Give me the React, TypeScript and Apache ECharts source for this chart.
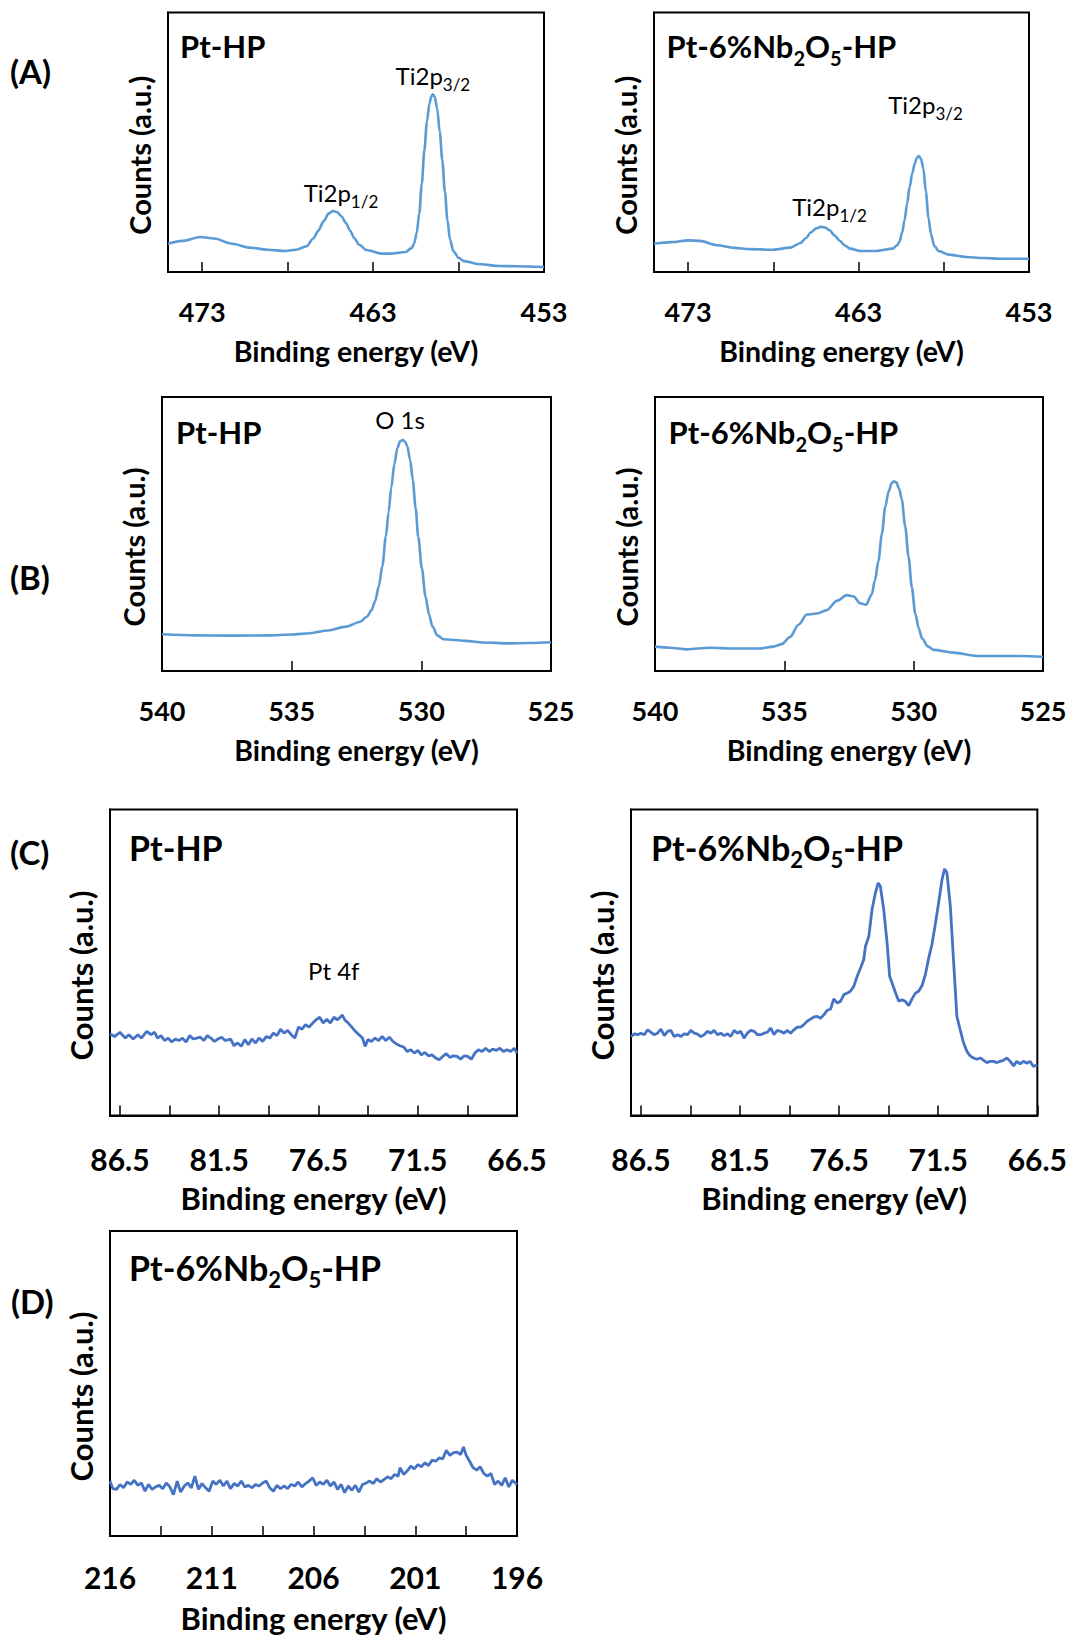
import React, { useEffect, useRef } from 'react';
import * as echarts from 'echarts';

const FONT = 'Lato, "Open Sans", sans-serif';
const LIGHT = '#5B9BD5';
const DARK = '#4472C4';

// ---------- data (x: binding energy eV, y: counts in % of plot height) ----------
const tiPtHP: number[][] = [
  [475.0, 10.9], [474.17, 12.0], [473.1, 13.5], [472.3, 12.9], [471.25, 10.9], [470.2, 9.4], [469.2, 8.6],
  [468.1, 8.1], [467.5, 8.6], [466.9, 9.9], [466.5, 12.9], [466.2, 16], [465.9, 19.5], [465.6, 22.5],
  [465.35, 23.5], [465.1, 23], [464.85, 21.5], [464.6, 19], [464.35, 16], [464.1, 13], [463.8, 10.5],
  [463.4, 8.5], [462.5, 7.1], [461.9, 7.1], [461.1, 7.7], [460.75, 9.2], [460.6, 10.9], [460.45, 15],
  [460.3, 22.5], [460.15, 34], [460.0, 47], [459.85, 58], [459.7, 65], [459.6, 67.6], [459.5, 68.5],
  [459.4, 67.6], [459.25, 63], [459.1, 54], [458.95, 43], [458.8, 31], [458.65, 20], [458.5, 12.5],
  [458.3, 8], [458.0, 5.5], [457.7, 4.2], [456.7, 3.0], [455.6, 2.3], [454.6, 2.2], [453.0, 1.9],
];
const tiPtNb: number[][] = [
  [475.0, 10.9], [474.0, 11.5], [472.96, 12.2], [472.3, 12.0], [471.3, 10.3], [470.3, 9.3], [469.4, 8.8],
  [468.0, 8.6], [467.0, 9.4], [466.4, 11.2], [466.1, 13], [465.8, 15.2], [465.5, 16.8], [465.2, 17.4],
  [464.95, 17.1], [464.7, 16.1], [464.4, 14], [464.1, 12], [463.8, 10.2], [463.5, 9.0], [462.9, 8.1],
  [461.96, 8.1], [461.0, 9.0], [460.75, 10.2], [460.6, 11.6], [460.45, 15], [460.3, 20], [460.15, 26.5],
  [460.0, 32.8], [459.85, 38], [459.7, 41.8], [459.58, 44], [459.46, 44.7], [459.33, 43.5], [459.2, 40],
  [459.05, 31], [458.9, 21], [458.75, 14.5], [458.55, 10], [458.3, 8.1], [457.7, 6.7], [456.7, 5.8],
  [455.7, 5.4], [454.6, 5.1], [453.0, 5.1],
];
const oPtHP: number[][] = [
  [540, 13.4], [538.7, 13.0], [537.3, 12.9], [535.9, 13.0], [535.0, 13.3], [534.3, 13.8], [533.6, 14.8],
  [532.9, 16.2], [532.35, 18.0], [532.1, 19.8], [531.92, 22.2], [531.78, 25.5], [531.64, 30.9], [531.5, 38.5],
  [531.37, 49], [531.26, 58], [531.16, 67], [531.04, 75.5], [530.92, 81.5], [530.82, 83.8], [530.72, 84.3],
  [530.62, 83.6], [530.54, 82], [530.43, 77], [530.33, 69.8], [530.22, 59.5], [530.12, 49], [529.98, 37.5],
  [529.84, 27.2], [529.7, 20.5], [529.57, 16.2], [529.38, 13], [529.15, 11.6], [528.3, 11.0], [527.6, 10.4],
  [526.65, 10.1], [525.8, 10.2], [525, 10.5],
];
const oPtNb: number[][] = [
  [540, 8.9], [539.42, 8.5], [538.77, 7.9], [537.87, 8.5], [536.97, 8.2], [535.94, 8.2], [535.42, 8.9],
  [535.1, 9.8], [534.78, 12.4], [534.45, 16.9], [534.13, 20.6], [533.74, 21.0], [533.36, 22.2], [532.97, 25.6],
  [532.58, 27.7], [532.33, 27.3], [532.07, 24.7], [531.84, 24.2], [531.62, 28.0], [531.5, 33], [531.36, 40.2],
  [531.23, 50], [531.1, 59.8], [530.97, 65.5], [530.84, 68.7], [530.75, 69.2], [530.67, 68.9], [530.56, 66.5],
  [530.46, 62.7], [530.33, 53], [530.2, 41.8], [530.07, 30.5], [529.94, 21.0], [529.8, 15.5], [529.68, 11.9],
  [529.45, 9], [529.23, 7.7], [528.46, 6.7], [527.55, 5.5], [526.65, 5.5], [525.88, 5.5], [525, 5.2],
];
const ptPtHP: number[][] = [
  [87.0, 26.7], [86.77, 25.8], [86.5, 27.2], [86.23, 25.3], [86.05, 26.4], [85.83, 25.0], [85.6, 26.4],
  [85.42, 25.3], [85.15, 27.5], [84.93, 26.4], [84.75, 27.2], [84.61, 25.3], [84.43, 26.1], [84.25, 24.5],
  [84.07, 25.3], [83.89, 24.0], [83.71, 25.0], [83.53, 24.5], [83.35, 25.3], [83.17, 24.0], [82.99, 26.1],
  [82.81, 25.0], [82.63, 25.3], [82.45, 25.6], [82.27, 24.5], [82.1, 26.1], [81.92, 25.3], [81.74, 24.2],
  [81.56, 25.0], [81.38, 25.6], [81.2, 24.5], [80.93, 25.0], [80.75, 22.8], [80.57, 23.7], [80.39, 22.6],
  [80.21, 24.8], [80.03, 23.1], [79.85, 25.0], [79.67, 23.7], [79.49, 25.3], [79.31, 24.2], [79.13, 25.8],
  [78.95, 25.3], [78.77, 26.9], [78.59, 26.1], [78.41, 28.2], [78.23, 26.9], [78.05, 27.8], [77.87, 26.4],
  [77.69, 25.3], [77.51, 28.9], [77.33, 28.2], [77.15, 29.7], [76.97, 28.9], [76.79, 30.2], [76.62, 31.3],
  [76.44, 32.1], [76.26, 30.2], [76.08, 31.5], [75.9, 30.2], [75.72, 32.1], [75.54, 31.3], [75.3, 32.8],
  [75.18, 31.3], [75.0, 30.2], [74.82, 28.9], [74.64, 27.5], [74.46, 26.4], [74.28, 25.3], [74.15, 22.6],
  [74.01, 24.8], [73.83, 24.2], [73.65, 25.3], [73.47, 24.5], [73.29, 25.8], [73.11, 24.5], [72.93, 25.6],
  [72.75, 24.2], [72.57, 23.4], [72.39, 22.8], [72.21, 22.4], [72.03, 20.9], [71.85, 21.5], [71.67, 20.4],
  [71.49, 21.3], [71.32, 19.8], [71.14, 20.6], [70.96, 19.5], [70.78, 19.8], [70.6, 18.8], [70.42, 18.2],
  [70.24, 19.3], [70.06, 20.2], [69.88, 19.0], [69.7, 19.5], [69.52, 19.3], [69.34, 18.4], [69.16, 19.5],
  [68.98, 19.3], [68.8, 18.4], [68.62, 20.4], [68.44, 21.5], [68.26, 20.9], [68.08, 22.0], [67.9, 20.9],
  [67.72, 21.7], [67.54, 21.3], [67.36, 22.0], [67.18, 20.9], [67.0, 21.5], [66.82, 20.9], [66.64, 22.0],
  [66.5, 20.4],
];
const ptPtNb: number[][] = [
  [87.0, 25.8], [86.83, 26.7], [86.66, 26.4], [86.5, 26.9], [86.33, 26.4], [86.16, 28.0], [85.99, 27.2],
  [85.83, 26.4], [85.66, 26.9], [85.49, 28.2], [85.32, 26.1], [85.15, 27.5], [84.99, 27.8], [84.82, 25.8],
  [84.65, 26.4], [84.48, 25.8], [84.32, 26.7], [84.15, 26.4], [83.98, 27.8], [83.81, 26.9], [83.64, 26.6],
  [83.48, 25.8], [83.31, 26.4], [83.14, 27.5], [82.97, 26.9], [82.81, 27.8], [82.64, 26.4], [82.47, 26.9],
  [82.3, 26.1], [82.13, 26.7], [81.97, 25.8], [81.8, 27.8], [81.63, 26.9], [81.46, 27.5], [81.3, 25.3],
  [81.13, 26.9], [80.96, 27.8], [80.79, 27.5], [80.62, 26.4], [80.46, 26.4], [80.29, 26.9], [80.12, 27.2],
  [79.95, 28.6], [79.79, 26.4], [79.62, 27.8], [79.45, 27.5], [79.28, 26.9], [79.11, 27.8], [78.95, 26.9],
  [78.78, 28.0], [78.61, 28.9], [78.44, 28.9], [78.28, 29.7], [78.11, 30.8], [77.94, 31.5], [77.77, 32.2],
  [77.6, 32.4], [77.44, 31.8], [77.27, 32.9], [77.1, 34.4], [76.93, 34.8], [76.77, 38.1], [76.6, 36.8],
  [76.43, 37.3], [76.26, 39.5], [76.09, 40.0], [75.93, 40.6], [75.76, 42.2], [75.59, 45.5], [75.42, 48.2],
  [75.26, 50.9], [75.17, 55.3], [75.0, 58.6], [74.84, 67.3], [74.67, 72.7], [74.53, 76.0], [74.42, 74.9],
  [74.25, 67.3], [74.08, 56.4], [73.95, 45.5], [73.83, 43.3], [73.66, 40.2], [73.49, 37.3], [73.33, 37.8],
  [73.16, 37.3], [72.99, 35.9], [72.82, 38.1], [72.65, 40.0], [72.49, 40.6], [72.32, 42.4], [72.15, 46.0],
  [71.98, 51.5], [71.82, 55.8], [71.65, 62.4], [71.48, 69.5], [71.31, 77.1], [71.18, 80.6], [71.06, 79.3],
  [70.89, 68.4], [70.72, 49.8], [70.56, 32.4], [70.39, 28.0], [70.22, 23.7], [70.05, 20.9], [69.89, 19.5],
  [69.72, 18.8], [69.55, 18.4], [69.38, 18.8], [69.21, 18.0], [69.05, 17.3], [68.88, 17.7], [68.71, 17.7],
  [68.54, 17.3], [68.38, 17.7], [68.21, 18.0], [68.04, 18.8], [67.87, 17.7], [67.7, 16.2], [67.54, 17.7],
  [67.37, 16.9], [67.2, 17.7], [67.03, 17.1], [66.87, 17.7], [66.7, 16.0], [66.5, 16.6],
];
const nbPtNb: number[][] = [
  [216.0, 18.0], [215.86, 15.5], [215.68, 15.3], [215.51, 16.9], [215.33, 15.8], [215.16, 17.7], [214.98, 16.9],
  [214.81, 18.3], [214.63, 16.6], [214.46, 17.4], [214.28, 14.7], [214.11, 16.9], [213.93, 15.3], [213.76, 16.1],
  [213.58, 16.6], [213.41, 15.5], [213.23, 17.4], [213.06, 16.1], [212.88, 13.6], [212.7, 18.0], [212.53, 14.4],
  [212.35, 16.4], [212.18, 17.4], [212.0, 15.8], [211.83, 19.6], [211.65, 15.3], [211.48, 17.2], [211.3, 15.8],
  [211.13, 14.7], [210.95, 18.0], [210.78, 16.9], [210.6, 18.3], [210.43, 16.4], [210.25, 18.0], [210.08, 15.5],
  [209.9, 17.2], [209.72, 16.4], [209.55, 18.0], [209.37, 16.1], [209.2, 16.6], [209.02, 15.8], [208.85, 16.9],
  [208.67, 16.4], [208.5, 17.4], [208.32, 18.0], [208.15, 15.8], [207.97, 14.7], [207.8, 16.6], [207.62, 15.5],
  [207.45, 16.4], [207.27, 15.5], [207.1, 16.9], [206.92, 16.4], [206.75, 17.7], [206.57, 16.1], [206.39, 17.2],
  [206.22, 18.0], [206.04, 19.1], [205.87, 16.6], [205.69, 17.7], [205.52, 16.9], [205.34, 18.3], [205.17, 16.4],
  [204.99, 17.7], [204.82, 15.3], [204.64, 16.9], [204.47, 14.2], [204.29, 16.4], [204.12, 15.0], [203.94, 16.6],
  [203.77, 14.4], [203.59, 16.9], [203.41, 17.4], [203.24, 18.0], [203.06, 17.2], [202.89, 18.8], [202.71, 17.7],
  [202.54, 18.5], [202.36, 19.4], [202.19, 18.8], [202.01, 20.2], [201.84, 19.6], [201.75, 22.4], [201.57, 20.2],
  [201.4, 21.3], [201.22, 22.9], [201.05, 22.0], [200.87, 23.4], [200.7, 22.7], [200.52, 24.0], [200.35, 23.1],
  [200.17, 24.9], [200.0, 24.5], [199.82, 25.6], [199.65, 25.3], [199.47, 28.1], [199.3, 26.4], [199.12, 27.3],
  [198.94, 27.5], [198.77, 26.7], [198.63, 29.2], [198.51, 26.7], [198.33, 24.5], [198.16, 22.4], [197.98, 21.6],
  [197.81, 22.7], [197.63, 20.5], [197.46, 19.6], [197.28, 20.5], [197.1, 16.9], [196.93, 18.0], [196.75, 16.6],
  [196.58, 19.1], [196.4, 16.1], [196.23, 18.3], [196.0, 16.9],
];

// ---------- axis ticks / labels ----------
const tiLabels = [453, 463, 473];
const tiTicks = [453, 458, 463, 468, 473];
const oLabels = [525, 530, 535, 540];
const oTicks = [525, 530, 535, 540];
const ptLabels = [66.5, 71.5, 76.5, 81.5, 86.5];
const ptTicks = [66.5, 69, 71.5, 74, 76.5, 79, 81.5, 84, 86.5];
const nbLabels = [196, 201, 206, 211, 216];
const nbTicks = [196, 198.5, 201, 203.5, 206, 208.5, 211, 213.5, 216];

// ---------- texts ----------
const X_NAME = 'Binding energy (eV)';
const Y_NAME = 'Counts (a.u.)';
const T_HP = '{m|Pt-HP}';
const T_NB = '{m|Pt-6%Nb}{s|2}{m|O}{s|5}{m|-HP}';
const N_TI12 = '{m|Ti2p}{s|1/2}';
const N_TI32 = '{m|Ti2p}{s|3/2}';
const N_O1S = '{m|O 1s}';
const N_PT4F = '{m|Pt 4f}';

type Note = { coord: number[]; text: string };
type Panel = {
  grid: number[]; min: number; max: number; ticks: number[]; labels: number[];
  data: number[][]; color: string; smooth: boolean; big: boolean;
  labelMargin: number; xNameGap: number;
  title: string; titlePos: number[]; notes: Note[];
};

const panels: Panel[] = [
  { grid: [168, 12.5, 376, 259.5], min: 453, max: 475, ticks: tiTicks, labels: tiLabels, data: tiPtHP, color: LIGHT, smooth: true, big: false, labelMargin: 25.5, xNameGap: 64.5, title: T_HP, titlePos: [180, 46],
    notes: [{ coord: [464.88, 30.8], text: N_TI12 }, { coord: [459.5, 75.9], text: N_TI32 }] },
  { grid: [654, 12.5, 375, 259.5], min: 453, max: 475, ticks: tiTicks, labels: tiLabels, data: tiPtNb, color: LIGHT, smooth: true, big: false, labelMargin: 25.5, xNameGap: 64.5, title: T_NB, titlePos: [666.5, 46],
    notes: [{ coord: [464.7, 25.2], text: N_TI12 }, { coord: [459.07, 64.6], text: N_TI32 }] },
  { grid: [162, 397, 389, 274], min: 525, max: 540, ticks: oTicks, labels: oLabels, data: oPtHP, color: LIGHT, smooth: true, big: false, labelMargin: 25.5, xNameGap: 64.5, title: T_HP, titlePos: [176, 432],
    notes: [{ coord: [530.82, 91.9], text: N_O1S }] },
  { grid: [655, 397, 388, 274], min: 525, max: 540, ticks: oTicks, labels: oLabels, data: oPtNb, color: LIGHT, smooth: true, big: false, labelMargin: 25.5, xNameGap: 64.5, title: T_NB, titlePos: [668.5, 432],
    notes: [] },
  { grid: [110, 809.5, 407, 306], min: 66.5, max: 87, ticks: ptTicks, labels: ptLabels, data: ptPtHP, color: DARK, smooth: false, big: true, labelMargin: 28, xNameGap: 67, title: T_HP, titlePos: [129, 847],
    notes: [{ coord: [75.73, 47.5], text: N_PT4F }] },
  { grid: [631, 809.5, 408, 306], min: 66.5, max: 87, ticks: ptTicks, labels: ptLabels, data: ptPtNb, color: DARK, smooth: false, big: true, labelMargin: 28, xNameGap: 67, title: T_NB, titlePos: [651, 847],
    notes: [] },
  { grid: [110, 1231, 407, 305], min: 196, max: 216, ticks: nbTicks, labels: nbLabels, data: nbPtNb, color: DARK, smooth: false, big: true, labelMargin: 26, xNameGap: 66, title: T_NB, titlePos: [129, 1267],
    notes: [] },
];

const letters = [
  { text: '(A)', x: 10, y: 71 },
  { text: '(B)', x: 10, y: 577 },
  { text: '(C)', x: 10, y: 852 },
  { text: '(D)', x: 11, y: 1301 },
];

function rich(mainSize: number, subSize: number, lineH: number, shift: number, bold: boolean) {
  const w = bold ? 'bold' : 'normal';
  return {
    m: { fontFamily: FONT, fontSize: mainSize, fontWeight: w, color: '#000', lineHeight: lineH },
    s: { fontFamily: FONT, fontSize: subSize, fontWeight: w, color: '#000', lineHeight: lineH, padding: [shift * 2, 0, 0, 0] },
  };
}

function buildOption() {
  const grid: any[] = [];
  const xAxis: any[] = [];
  const yAxis: any[] = [];
  const series: any[] = [];
  const title: any[] = [];

  panels.forEach((p, i) => {
    const fs = p.big ? 30 : 27;
    const nfs = p.big ? 31 : 28.5;
    const yfs = p.big ? 31 : 29;
    const tfs = p.big ? 34 : 31;
    grid.push({
      left: p.grid[0], top: p.grid[1], width: p.grid[2], height: p.grid[3],
      show: true, borderColor: '#000', borderWidth: 2, backgroundColor: 'transparent', containLabel: false,
    });
    xAxis.push({
      type: 'value', gridIndex: i, min: p.min, max: p.max, inverse: true,
      name: X_NAME, nameLocation: 'middle', nameGap: p.xNameGap,
      nameTextStyle: { fontFamily: FONT, fontSize: nfs, fontWeight: 'bold', color: '#000' },
      axisLine: { show: true, onZero: false, lineStyle: { color: '#000', width: 2 } },
      axisTick: { show: true, inside: true, length: 10, customValues: p.ticks, lineStyle: { color: '#000', width: 1.5 } },
      axisLabel: {
        show: true, customValues: p.labels, margin: p.labelMargin, showMinLabel: true, showMaxLabel: true,
        fontFamily: FONT, fontSize: fs, fontWeight: 'bold', color: '#000',
      },
      splitLine: { show: false },
    });
    yAxis.push({
      type: 'value', gridIndex: i, min: 0, max: 100,
      name: Y_NAME, nameLocation: 'middle', nameGap: p.big ? 13.5 : 14.5,
      nameTextStyle: { fontFamily: FONT, fontSize: yfs, fontWeight: 'bold', color: '#000', padding: [0, 26, 0, 0] },
      axisLine: { show: true, lineStyle: { color: '#000', width: 2 } },
      axisTick: { show: false }, axisLabel: { show: false }, splitLine: { show: false },
    });
    series.push({
      type: 'line', xAxisIndex: i, yAxisIndex: i, data: p.data,
      showSymbol: false, symbol: 'none', smooth: p.smooth ? 0.3 : false, smoothMonotone: 'x',
      lineStyle: { color: p.color, width: p.smooth ? 2.6 : 2.8 }, silent: true,
      markPoint: p.notes.length ? {
        symbol: 'circle', symbolSize: 0, silent: true, itemStyle: { color: 'transparent' },
        data: p.notes.map((n) => ({
          coord: n.coord, value: 0,
          label: { show: true, position: 'inside', formatter: () => n.text, rich: rich(24, 17, 28, 9, false) },
        })),
      } : undefined,
    });
    title.push({
      text: p.title, left: p.titlePos[0], top: p.titlePos[1] - 20, padding: 0,
      textStyle: { rich: rich(tfs, p.big ? 22 : 20, 40, 12, true) },
    });
  });

  letters.forEach((l) => {
    title.push({
      text: l.text, left: l.x, top: l.y - 19, padding: 0,
      textStyle: { fontFamily: FONT, fontSize: 33, fontWeight: 'bold', color: '#000', lineHeight: 38 },
    });
  });

  return { animation: false, backgroundColor: '#fff', grid, xAxis, yAxis, series, title };
}

export default function App() {
  const ref = useRef<HTMLDivElement>(null);
  useEffect(() => {
    const chart = echarts.init(ref.current as HTMLDivElement, null, { renderer: 'svg' });
    chart.setOption(buildOption() as any);
    return () => chart.dispose();
  }, []);
  return (
    <div
      ref={ref}
      style={{ position: 'absolute', left: 0, top: 0, width: 1070, height: 1636, background: '#fff' }}
    />
  );
}
